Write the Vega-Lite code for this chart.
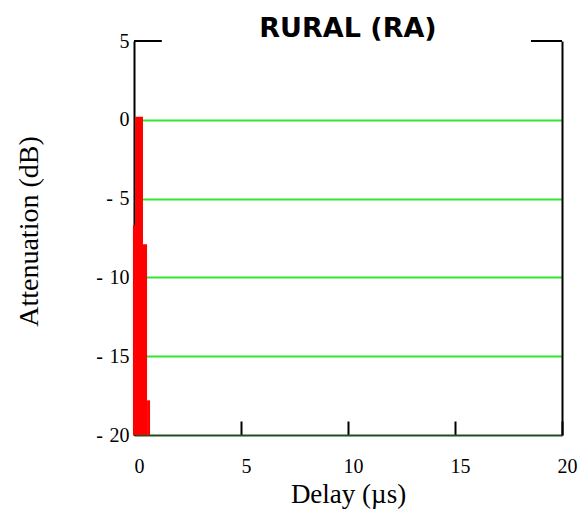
{
  "$schema": "https://vega.github.io/schema/vega-lite/v6.json",
  "width": 428,
  "height": 394,
  "autosize": {"type": "none"},
  "padding": {"left": 134, "top": 41, "right": 16, "bottom": 76},
  "background": "white",
  "config": {"view": {"stroke": null}},
  "title": {
    "text": "RURAL (RA)",
    "font": "DejaVu Sans",
    "fontWeight": "bold",
    "fontSize": 27,
    "color": "black",
    "anchor": "middle",
    "offset": -12
  },
  "layer": [
    {
      "data": {"values": [
        {"d0": -0.05, "d1": 0.05, "att": -6.7},
        {"d0": 0.05, "d1": 0.42, "att": 0.2},
        {"d0": 0.42, "d1": 0.61, "att": -7.9},
        {"d0": 0.61, "d1": 0.75, "att": -17.8}
      ]},
      "mark": {"type": "rect", "color": "#ff0000", "clip": false},
      "encoding": {
        "x": {
          "field": "d0", "type": "quantitative",
          "scale": {"domain": [0, 20], "nice": false, "zero": false},
          "axis": {
            "title": "Delay (µs)",
            "values": [0, 5, 10, 15, 20],
            "grid": false,
            "domainColor": "#1f4f1f",
            "domainWidth": 2,
            "tickColor": "black",
            "tickWidth": 2,
            "tickSize": -14,
            "labelFlush": false,
            "labelOffset": 5,
            "labelFont": "Liberation Serif",
            "labelFontSize": 20,
            "labelColor": "black",
            "labelPadding": 35,
            "titleFont": "Liberation Serif",
            "titleFontSize": 27,
            "titleFontWeight": "normal",
            "titleColor": "black",
            "titlePadding": 5
          }
        },
        "x2": {"field": "d1"},
        "y": {
          "field": "att", "type": "quantitative",
          "scale": {"domain": [-20, 5], "nice": false, "zero": false},
          "axis": {
            "title": "Attenuation (dB)",
            "values": [5, 0, -5, -10, -15, -20],
            "labelExpr": "datum.value < 0 ? '-\u2004' + abs(datum.value) : datum.label",
            "ticks": false,
            "grid": true,
            "gridColor": "#2ee82e",
            "gridWidth": 2,
            "gridOpacity": {"condition": {"test": "datum.value == 5 || datum.value == -20", "value": 0}, "value": 1},
            "domainColor": "black",
            "domainWidth": 2,
            "labelFont": "Liberation Serif",
            "labelFontSize": 20,
            "labelColor": "black",
            "labelPadding": 5,
            "titleFont": "Liberation Serif",
            "titleFontSize": 28,
            "titleFontWeight": "normal",
            "titleColor": "black",
            "titlePadding": 52,
            "titleY": 190
          }
        },
        "y2": {"datum": -20}
      }
    },
    {
      "data": {"values": [
        {"d0": 0, "d1": 1.3, "att": 5},
        {"d0": 18.55, "d1": 20, "att": 5}
      ]},
      "mark": {"type": "rule", "color": "black", "strokeWidth": 2},
      "encoding": {
        "x": {"field": "d0", "type": "quantitative"},
        "x2": {"field": "d1"},
        "y": {
          "field": "att", "type": "quantitative",
          "axis": {
            "orient": "right",
            "title": null,
            "labels": false,
            "ticks": false,
            "grid": false,
            "domainColor": "black",
            "domainWidth": 2
          }
        }
      }
    }
  ],
  "resolve": {"axis": {"y": "independent"}}
}
